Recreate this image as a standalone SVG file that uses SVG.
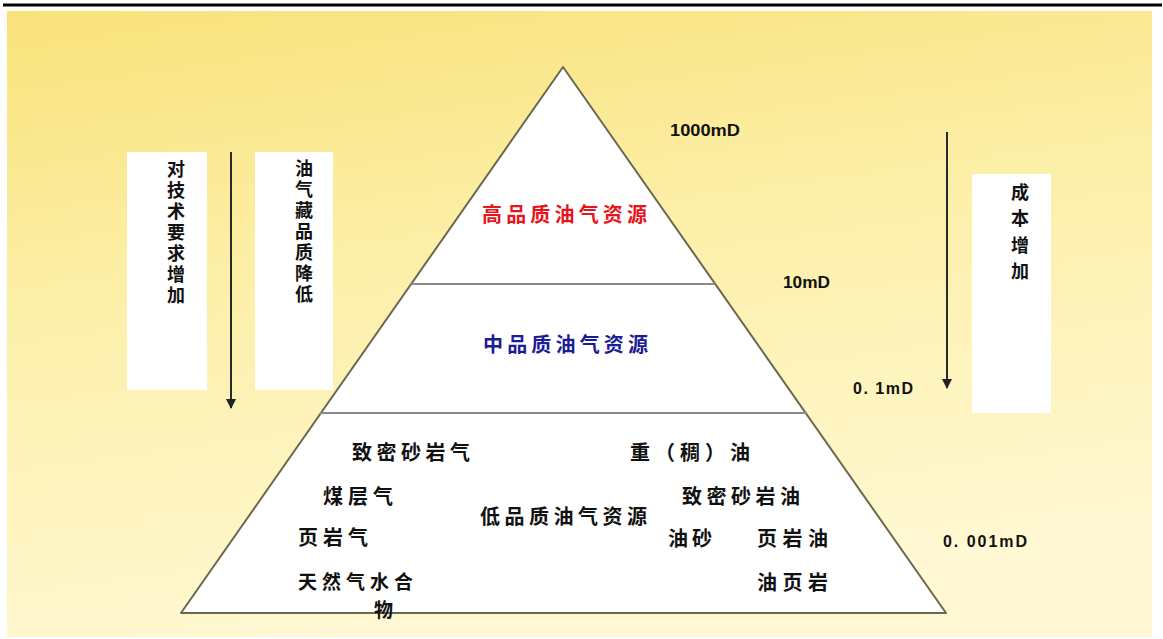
<svg xmlns="http://www.w3.org/2000/svg" width="1163" height="639" viewBox="0 0 1163 639">
<style>
.cn{font-family:"Noto Sans CJK SC","Noto Sans",sans-serif;font-weight:bold;font-size:20px;fill:#111;}
.vt{font-family:"Noto Sans CJK SC","Noto Sans",sans-serif;font-weight:bold;font-size:18px;fill:#111;writing-mode:vertical-rl;}
.num{font-family:"Liberation Sans",Arial,sans-serif;font-weight:bold;font-size:16px;fill:#111;}
.box{fill:#ffffff;}
.edge{fill:#ffffff;stroke:#6c6850;stroke-width:2;stroke-linejoin:round;}
.div{stroke:#8a8a88;stroke-width:2;}
.arr{stroke:#2a2a2a;stroke-width:2;fill:none;}
</style>
<defs>
<linearGradient id="bg" x1="0" y1="0" x2="0.25" y2="1">
<stop offset="0" stop-color="#F9E27A"/>
<stop offset="0.45" stop-color="#FCEFA8"/>
<stop offset="1" stop-color="#FFF8D2"/>
</linearGradient>
<marker id="ah" viewBox="0 0 10 10" refX="9" refY="5" markerWidth="5" markerHeight="5" orient="auto" markerUnits="strokeWidth">
<path d="M0,0 L10,5 L0,10 z" fill="#222"/>
</marker>
</defs>
<rect x="0" y="0" width="1163" height="639" fill="#ffffff"/>
<line x1="3" y1="5" x2="1162" y2="5" stroke="#000" stroke-width="3"/>
<rect x="7" y="11" width="1145" height="626" fill="url(#bg)"/>

<g id="pyramid">
<polygon class="edge" points="563,67 946,613 181,613"/>
<line class="div" x1="411" y1="284" x2="715" y2="284"/>
<line class="div" x1="320" y1="413" x2="806" y2="413"/>
</g>

<g id="box-tech">
<rect class="box" x="127" y="152" width="80" height="238"/>
<text class="vt" x="176" y="160" letter-spacing="3">对技术要求增加</text>
</g>
<g id="box-quality">
<rect class="box" x="255" y="152" width="78" height="238"/>
<text class="vt" x="304" y="159" letter-spacing="3">油气藏品质降低</text>
</g>
<g id="box-cost">
<rect class="box" x="972" y="174" width="79" height="239"/>
<text class="vt" x="1020" y="183" letter-spacing="8.5">成本增加</text>
</g>

<g id="connectors">
<line class="arr" x1="231" y1="152" x2="231" y2="408" marker-end="url(#ah)"/>
<line class="arr" x1="947" y1="132" x2="947" y2="388" marker-end="url(#ah)"/>
</g>

<g id="high">
<text class="cn" x="482" y="222" style="fill:#e8141b" textLength="165" lengthAdjust="spacing">高品质油气资源</text>
</g>
<g id="mid">
<text class="cn" x="483" y="352" style="fill:#1c1c96" textLength="165" lengthAdjust="spacing">中品质油气资源</text>
</g>
<g id="low">
<text class="cn" x="480" y="524" textLength="167" lengthAdjust="spacing">低品质油气资源</text>
</g>
<g id="tight-gas"><text class="cn" x="352" y="460" textLength="118" lengthAdjust="spacing">致密砂岩气</text></g>
<g id="cbm"><text class="cn" x="323" y="504" textLength="70" lengthAdjust="spacing">煤层气</text></g>
<g id="shale-gas"><text class="cn" x="298" y="545" textLength="70" lengthAdjust="spacing">页岩气</text></g>
<g id="hydrate"><text class="cn" style="font-size:19px"><tspan x="298" y="589" letter-spacing="5">天然气水合</tspan><tspan x="374" y="617">物</tspan></text></g>
<g id="heavy-oil"><text class="cn" x="630" y="460" textLength="120" lengthAdjust="spacing">重（稠）油</text></g>
<g id="tight-oil"><text class="cn" x="682" y="504" textLength="118" lengthAdjust="spacing">致密砂岩油</text></g>
<g id="oil-sand"><text class="cn" x="668" y="546" textLength="44" lengthAdjust="spacing">油砂</text></g>
<g id="shale-oil"><text class="cn" x="757" y="546" textLength="71" lengthAdjust="spacing">页岩油</text></g>
<g id="oil-shale"><text class="cn" x="757" y="590" textLength="71" lengthAdjust="spacing">油页岩</text></g>

<g id="perm-labels">
<text class="num" x="670" y="136" textLength="70" lengthAdjust="spacingAndGlyphs">1000mD</text>
<text class="num" x="783" y="288" textLength="47" lengthAdjust="spacingAndGlyphs">10mD</text>
<text class="num" x="853" y="394" textLength="60" lengthAdjust="spacing">0. 1mD</text>
<text class="num" x="943" y="547" textLength="84" lengthAdjust="spacing">0. 001mD</text>
</g>
</svg>
